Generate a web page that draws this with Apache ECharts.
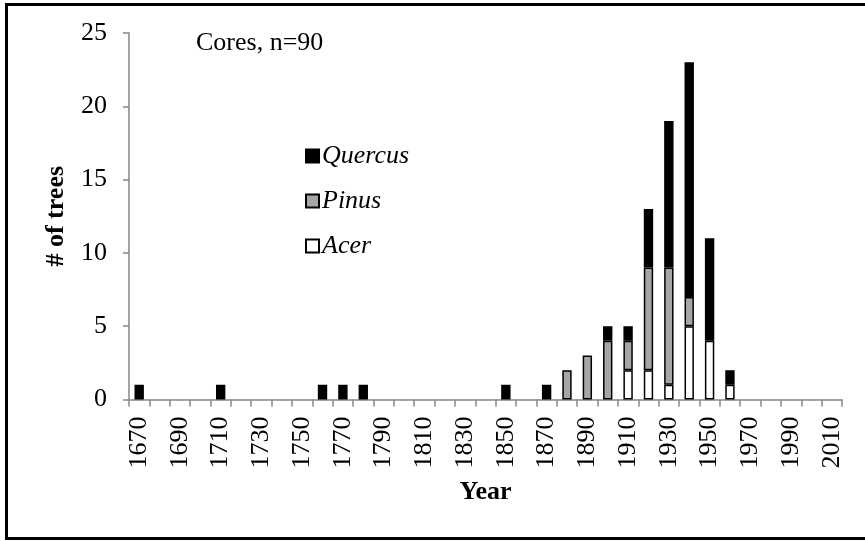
<!DOCTYPE html>
<html>
<head>
<meta charset="utf-8">
<script src="https://cdn.jsdelivr.net/npm/echarts@6/dist/echarts.min.js"></script>
<style>
html, body { margin: 0; padding: 0; background: #fff; }
#chart { width: 865px; height: 541px; }
</style>
</head>
<body>
<div id="chart"></div>
<script>
// decades, one bar slot each
var years = [1670, 1680, 1690, 1700, 1710, 1720, 1730, 1740, 1750, 1760,
	1770, 1780, 1790, 1800, 1810, 1820, 1830, 1840, 1850, 1860,
	1870, 1880, 1890, 1900, 1910, 1920, 1930, 1940, 1950, 1960,
	1970, 1980, 1990, 2000, 2010];

// number of cores per decade
var acer = [0, 0, 0, 0, 0, 0, 0, 0, 0, 0,
	0, 0, 0, 0, 0, 0, 0, 0, 0, 0,
	0, 0, 0, 0, 2, 2, 1, 5, 4, 1,
	0, 0, 0, 0, 0];
var pinus = [0, 0, 0, 0, 0, 0, 0, 0, 0, 0,
	0, 0, 0, 0, 0, 0, 0, 0, 0, 0,
	0, 2, 3, 4, 2, 7, 8, 2, 0, 0,
	0, 0, 0, 0, 0];
var quercus = [1, 0, 0, 0, 1, 0, 0, 0, 0, 1,
	1, 1, 0, 0, 0, 0, 0, 0, 1, 0,
	1, 0, 0, 1, 1, 4, 10, 16, 7, 1,
	0, 0, 0, 0, 0];

var FONT = '"Liberation Serif", "Times New Roman", serif';
var AXIS_GREY = '#868686';

function bars(arr){
	// empty decades get no bar at all
	return arr.map(function(v){ return v ? v : '-'; });
}

var chart = echarts.init(document.getElementById('chart'));

var option = {
	animation: false,
	textStyle: { fontFamily: FONT, color: '#000' },
	grid: { left: 129, right: 23, top: 33, bottom: 141.5, containLabel: false },
	legend: {
		orient: 'vertical',
		left: 300,
		top: 138,
		icon: 'rect',
		itemWidth: 13,
		itemHeight: 13,
		itemGap: 19,
		data: ['Quercus', 'Pinus', 'Acer'],
		textStyle: { fontFamily: FONT, fontSize: 26, fontStyle: 'italic', color: '#000', padding: [0, 0, 0, -2] }
	},
	xAxis: {
		type: 'category',
		data: years,
		boundaryGap: true,
		name: 'Year',
		nameLocation: 'middle',
		nameGap: 80,
		nameTextStyle: { fontFamily: FONT, fontSize: 26, fontWeight: 'bold', color: '#000' },
		axisLine: { lineStyle: { color: AXIS_GREY, width: 1.5 } },
		axisTick: { show: true, interval: 0, length: 7, lineStyle: { color: AXIS_GREY, width: 1.5 } },
		axisLabel: { interval: 1, rotate: 90, margin: 17, fontFamily: FONT, fontSize: 26, color: '#000' }
	},
	yAxis: {
		type: 'value',
		min: 0,
		max: 25,
		interval: 5,
		name: '# of trees',
		nameLocation: 'middle',
		nameGap: 60,
		nameTextStyle: { fontFamily: FONT, fontSize: 26, fontWeight: 'bold', color: '#000' },
		splitLine: { show: false },
		axisLine: { show: true, lineStyle: { color: AXIS_GREY, width: 1.5 } },
		axisTick: { show: true, length: 6, lineStyle: { color: AXIS_GREY, width: 1.5 } },
		axisLabel: { margin: 22, fontFamily: FONT, fontSize: 26, color: '#000' }
	},
	series: [
		{
			name: 'Acer',
			type: 'bar',
			stack: 'cores',
			barWidth: '46%',
			itemStyle: { color: '#ffffff', borderColor: '#000', borderWidth: 1.5 },
			data: bars(acer)
		},
		{
			name: 'Pinus',
			type: 'bar',
			stack: 'cores',
			barWidth: '46%',
			itemStyle: { color: '#a6a6a6', borderColor: '#000', borderWidth: 1.5 },
			data: bars(pinus)
		},
		{
			name: 'Quercus',
			type: 'bar',
			stack: 'cores',
			barWidth: '46%',
			itemStyle: { color: '#000000', borderColor: '#000', borderWidth: 1.5 },
			data: bars(quercus)
		}
	],
	graphic: [
		{
			type: 'rect',
			shape: { x: 6.5, y: 4.5, width: 870, height: 534 },
			style: { fill: null, stroke: '#000', lineWidth: 3 },
			silent: true
		},
		{
			type: 'text',
			left: 196,
			top: 30,
			style: { text: 'Cores, n=90', font: '26px ' + FONT, fill: '#000' }
		}
	]
};

chart.setOption(option);
</script>
</body>
</html>
